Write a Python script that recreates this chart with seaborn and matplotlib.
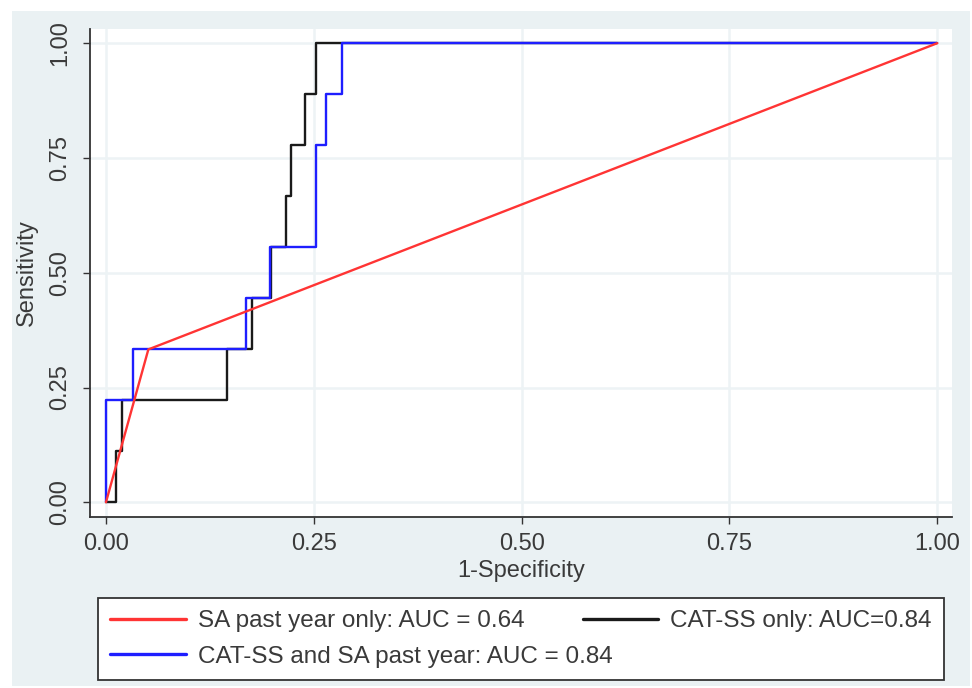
import pandas as pd
import numpy as np
import matplotlib
matplotlib.use('Agg')
import matplotlib.pyplot as plt
import seaborn as sns
from matplotlib.patches import Rectangle

# ROC vertices: (1-specificity, sensitivity)
sa_fpr = [0.0, 0.051, 1.0]
sa_tpr = [0.0, 0.333, 1.0]

cat_fpr = [0.0, 0.012, 0.019, 0.145, 0.176, 0.199, 0.217, 0.223, 0.239, 0.253, 1.0]
cat_tpr = [0.0, 0.111, 0.222, 0.333, 0.444, 0.556, 0.667, 0.778, 0.889, 1.0, 1.0]

both_fpr = [0.0, 0.0, 0.032, 0.168, 0.197, 0.253, 0.265, 0.284, 1.0]
both_tpr = [0.0, 0.222, 0.333, 0.444, 0.556, 0.778, 0.889, 1.0, 1.0]

labels = ['SA past year only: AUC = 0.64',
          'CAT-SS only: AUC=0.84',
          'CAT-SS and SA past year: AUC = 0.84']
colors = ['#ff3434', '#1a1a1a', '#1e1eff']
ticks = [0.0, 0.25, 0.5, 0.75, 1.0]
tick_labels = ['0.00', '0.25', '0.50', '0.75', '1.00']

# ==========================================================
# STYLE
# ==========================================================
sns.set_style('white')
plt.rcParams['font.family'] = ['Liberation Sans', 'DejaVu Sans']
txt = '#3a3a3a'
bg = '#eaf1f3'
fs = 17

fig = plt.figure(figsize=(9.72, 6.88), dpi=100)
fig.patch.set_facecolor('white')
# Stata-like outer graph region
fig.patches.append(Rectangle((12 / 972, 2 / 688), 958 / 972, 675 / 688,
                             transform=fig.transFigure, facecolor=bg,
                             edgecolor='none', zorder=-10))

ax = fig.add_axes([89.5 / 972, 1 - 517.3 / 688, (952 - 89.5) / 972, (517.3 - 28.5) / 688])
ax.set_facecolor('white')

# ==========================================================
# CURVES
# ==========================================================
df_cat = pd.DataFrame({'fpr': cat_fpr, 'tpr': cat_tpr})
df_both = pd.DataFrame({'fpr': both_fpr, 'tpr': both_tpr})
df_sa = pd.DataFrame({'fpr': sa_fpr, 'tpr': sa_tpr})

sns.lineplot(data=df_cat, x='fpr', y='tpr', estimator=None, sort=False,
             drawstyle='steps-post', color=colors[1], lw=1.7, label=labels[1], ax=ax)
sns.lineplot(data=df_both, x='fpr', y='tpr', estimator=None, sort=False,
             drawstyle='steps-post', color=colors[2], lw=1.7, label=labels[2], ax=ax)
sns.lineplot(data=df_sa, x='fpr', y='tpr', estimator=None, sort=False,
             color=colors[0], lw=1.7, label=labels[0], ax=ax)

# ==========================================================
# AXES
# ==========================================================
ax.set_xlim(-0.0198, 1.0177)
ax.set_ylim(-0.0327, 1.032)
ax.set_xticks(ticks)
ax.set_xticklabels(tick_labels)
ax.set_yticks(ticks)
ax.set_yticklabels(tick_labels, rotation=90, va='center')
ax.grid(True, color='#edf3f5', lw=1.8, zorder=0)
ax.set_axisbelow(True)

for s in ['top', 'right']:
    ax.spines[s].set_visible(False)
for s in ['left', 'bottom']:
    ax.spines[s].set_color('#333333')
    ax.spines[s].set_linewidth(1.3)

ax.tick_params(axis='both', direction='out', length=5, width=1, color='#333333',
               labelsize=fs, labelcolor=txt)
ax.tick_params(axis='x', pad=6, bottom=True)
ax.tick_params(axis='y', pad=8, left=True)
ax.set_xlabel('1-Specificity', fontsize=fs, color=txt, labelpad=4)
ax.set_ylabel('Sensitivity', fontsize=fs, color=txt, labelpad=8)

# legend: red / black on first row, blue on second
ax.get_legend().remove()
h, l = ax.get_legend_handles_labels()
order = [l.index(labels[0]), l.index(labels[2]), l.index(labels[1])]
leg = fig.legend([h[i] for i in order], [l[i] for i in order],
                 loc='upper left', ncol=2, mode='expand',
                 bbox_to_anchor=(98 / 972, 1 - 677 / 688, (944 - 98) / 972, 79 / 688),
                 fontsize=17.5, frameon=True, fancybox=False, framealpha=1,
                 handlelength=3.1, handletextpad=0.5, labelspacing=0.55,
                 borderpad=0.5, borderaxespad=0, columnspacing=1.0)
leg.get_frame().set_edgecolor('#333333')
leg.get_frame().set_linewidth(1.3)
for t in leg.get_texts():
    t.set_color(txt)
for line in leg.get_lines():
    line.set_linewidth(2.4)

fig.savefig('out.png', dpi=100, facecolor=fig.get_facecolor())
